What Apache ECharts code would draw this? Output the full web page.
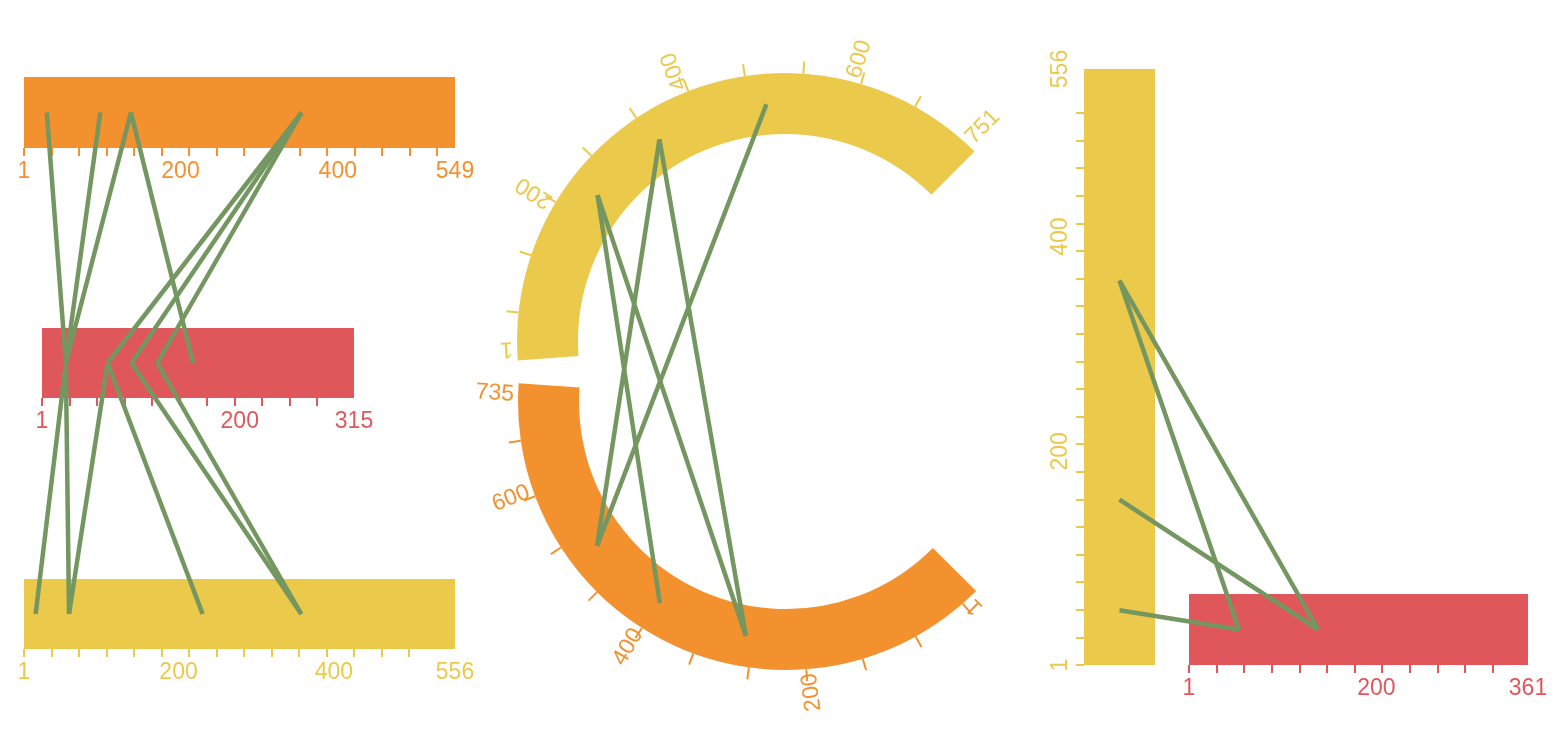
<!DOCTYPE html>
<html>
<head>
<meta charset="utf-8">
<title>ECL</title>
<script src="https://cdn.jsdelivr.net/npm/echarts@6/dist/echarts.min.js"></script>
<style>
  html, body { margin: 0; padding: 0; background: #fff; }
  #main { width: 1567px; height: 736px; }
</style>
</head>
<body>
<div id="main"></div>
<script>
var ORANGE = '#f3912e', RED = '#e0575b', YELLOW = '#ebc94a', GREEN = '#749660';
var FONT = '"Liberation Sans", Arial, sans-serif';

// axis maxima (every axis starts at 1)
var eTopMax = 549, eMidMax = 315, eBotMax = 556;
var cTopMax = 751, cBotMax = 735;
var lVertMax = 556, lHorMax = 361;

// tick labels
var eTopLabels = [1, 200, 400, 549];
var eMidLabels = [1, 200, 315];
var eBotLabels = [1, 200, 400, 556];
var cTopLabels = [1, 200, 400, 600, 751];
var cBotLabels = [1, 200, 400, 600, 735];
var lVertLabels = [1, 200, 400, 556];
var lHorLabels = [1, 200, 361];

// links between two axes: [value on first axis, value on second axis]
var eTopMidLinks = [[30, 25], [98, 25], [137, 25], [137, 153], [354, 67], [354, 91], [354, 117]];
var eMidBotLinks = [[25, 16], [25, 59], [67, 59], [67, 231], [91, 358], [117, 358]];
var cTopBotLinks = [[227, 408], [227, 290], [336, 517], [336, 290], [484, 517]];
var lVertHorLinks = [[359, 54], [359, 138], [155, 138], [52, 54]];

function tickSeq(start, step, count) {
  var a = [];
  for (var i = 0; i < count; i++) a.push(start + i * step);
  return a;
}

// each half of the C covers this many degrees
var C_SPAN = 139;
function angleMax(max) { return 1 + (max - 1) * 360 / C_SPAN; }

var C_TOP_CENTER = [785, 341], C_BOT_CENTER = [786, 402];
var FS = 23;

function valueAxis(grid, max, labels, ticks, color, extra) {
  var ax = {
    gridIndex: grid, type: 'value', min: 1, max: max,
    axisLine: { show: false },
    splitLine: { show: false },
    axisTick: { show: true, length: 8, customValues: ticks, lineStyle: { color: color, width: 2 } },
    axisLabel: { customValues: labels, color: color, fontSize: FS, fontFamily: FONT, margin: 12 }
  };
  if (extra) Object.keys(extra).forEach(function (k) { ax[k] = extra[k]; });
  return ax;
}
function catAxis(grid, name) {
  return { gridIndex: grid, type: 'category', data: [name], show: false };
}
function bar(xi, yi, max, color) {
  return { type: 'bar', xAxisIndex: xi, yAxisIndex: yi, data: [max], barWidth: '100%',
           itemStyle: { color: color }, silent: true };
}
function angleAxis(pi, max, start, ticks, color) {
  return {
    polarIndex: pi, type: 'value', min: 1, max: angleMax(max), startAngle: start, clockwise: true,
    axisLine: { show: false }, splitLine: { show: false }, axisLabel: { show: false },
    axisTick: { show: true, length: 12, customValues: ticks, lineStyle: { color: color, width: 2 } }
  };
}

var chart = echarts.init(document.getElementById('main'));

chart.setOption({
  animation: false,
  grid: [
    { left: 24, top: 77, width: 431, height: 71 },
    { left: 42, top: 328, width: 312, height: 70 },
    { left: 24, top: 579, width: 431, height: 70 },
    { left: 1084, top: 69, width: 71, height: 596 },
    { left: 1189, top: 594, width: 339, height: 71 }
  ],
  xAxis: [
    valueAxis(0, eTopMax, eTopLabels, tickSeq(1, 35, 16), ORANGE),
    valueAxis(1, eMidMax, eMidLabels, tickSeq(1, 27.7, 11), RED),
    valueAxis(2, eBotMax, eBotLabels, tickSeq(1, 35.4, 15), YELLOW),
    catAxis(3, 'L1'),
    valueAxis(4, lHorMax, lHorLabels, tickSeq(1, 29.3, 12), RED)
  ],
  yAxis: [
    catAxis(0, 'E1'),
    catAxis(1, 'E2'),
    catAxis(2, 'E3'),
    valueAxis(3, lVertMax, lVertLabels, tickSeq(1, 25.7, 21), YELLOW, { position: 'left' }),
    catAxis(4, 'L2')
  ],
  polar: [
    { center: C_TOP_CENTER, radius: [207, 268] },
    { center: C_BOT_CENTER, radius: [207, 268] }
  ],
  angleAxis: [
    angleAxis(0, cTopMax, 184, tickSeq(55.5, 67.7, 10), YELLOW),
    angleAxis(1, cBotMax, 315, tickSeq(21, 64.9, 11), ORANGE)
  ],
  radiusAxis: [
    { polarIndex: 0, type: 'category', data: ['C1'], show: false },
    { polarIndex: 1, type: 'category', data: ['C2'], show: false }
  ],
  series: [
    bar(0, 0, eTopMax, ORANGE),
    bar(1, 1, eMidMax, RED),
    bar(2, 2, eBotMax, YELLOW),
    bar(3, 3, lVertMax, YELLOW),
    bar(4, 4, lHorMax, RED),
    { type: 'bar', coordinateSystem: 'polar', polarIndex: 0, data: [cTopMax], barWidth: '100%',
      itemStyle: { color: YELLOW }, silent: true },
    { type: 'bar', coordinateSystem: 'polar', polarIndex: 1, data: [cBotMax], barWidth: '100%',
      itemStyle: { color: ORANGE }, silent: true }
  ]
});

// the y axis labels of the L run upwards
chart.setOption({ yAxis: [{}, {}, {}, { axisLabel: { rotate: 90 } }, {}] });

// point helpers, all through the chart's own coordinate systems
function eTop(v) { return chart.convertToPixel({ gridIndex: 0 }, [v, 'E1']); }
function eMid(v) { return chart.convertToPixel({ gridIndex: 1 }, [v, 'E2']); }
function eBot(v) { return chart.convertToPixel({ gridIndex: 2 }, [v, 'E3']); }
function lVert(v) { return chart.convertToPixel({ gridIndex: 3 }, ['L1', v]); }
function lHor(v) { return chart.convertToPixel({ gridIndex: 4 }, [v, 'L2']); }
function cTop(v) { return chart.convertToPixel({ polarIndex: 0 }, ['C1', v]); }
function cBot(v) { return chart.convertToPixel({ polarIndex: 1 }, ['C2', v]); }

var graphics = [];
function addLinks(links, fa, fb) {
  links.forEach(function (l) {
    var a = fa(l[0]), b = fb(l[1]);
    graphics.push({
      type: 'line', silent: true, z: 100,
      shape: { x1: a[0], y1: a[1], x2: b[0], y2: b[1] },
      style: { stroke: GREEN, lineWidth: 4.5, lineCap: 'butt' }
    });
  });
}
addLinks(eTopMidLinks, eTop, eMid);
addLinks(eMidBotLinks, eMid, eBot);
addLinks(cTopBotLinks, cTop, cBot);
addLinks(lVertHorLinks, lVert, lHor);

// rotated labels round the C; the one at the gap between the halves sits on the other side
var LABEL_R = 272;
function arcLabels(labels, toPx, center, color, outward, gapValue) {
  labels.forEach(function (v) {
    var p = toPx(v);
    var th = Math.atan2(center[1] - p[1], p[0] - center[0]);
    var va = v === gapValue ? 'top' : 'bottom';
    graphics.push({
      type: 'text', silent: true, z: 50,
      x: center[0] + LABEL_R * Math.cos(th),
      y: center[1] - LABEL_R * Math.sin(th),
      rotation: outward ? th : th + Math.PI,
      style: {
        text: String(v), fill: color, fontSize: FS, fontFamily: FONT,
        align: outward ? 'left' : 'right', textAlign: outward ? 'left' : 'right',
        verticalAlign: va, textVerticalAlign: va
      }
    });
  });
}
arcLabels(cTopLabels, cTop, C_TOP_CENTER, YELLOW, true, 1);
arcLabels(cBotLabels, cBot, C_BOT_CENTER, ORANGE, false, cBotMax);

chart.setOption({ graphic: graphics });
</script>
</body>
</html>
